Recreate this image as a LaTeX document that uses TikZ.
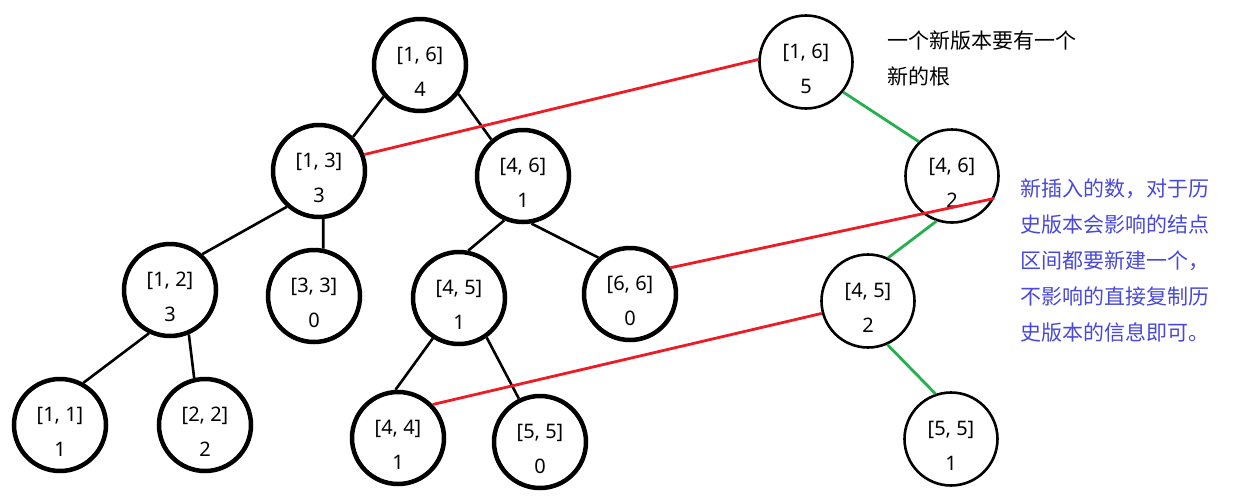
\documentclass[tikz,border=0pt]{standalone}
\usepackage{fontspec}
\setmainfont{Noto Sans CJK SC}
\newfontfamily\seglabelfont{Noto Sans}
\definecolor{PaintRed}{RGB}{237,28,36}
\definecolor{PaintGreen}{RGB}{34,177,76}
\definecolor{NoteBlue}{RGB}{72,72,220}
\tikzset{
  oldseg/.style={circle,draw=black,line width=4.5pt,minimum size=92pt,inner sep=0pt},
  newseg/.style={circle,draw=black,line width=2.6pt,minimum size=93pt,inner sep=0pt},
  segtext/.style={font=\seglabelfont\fontsize{20}{35}\selectfont,align=center,inner sep=0pt,yshift=-7pt},
  treeedge/.style={draw=black,line width=2.6pt},
  copyedge/.style={draw=PaintRed,line width=2.8pt},
  newedge/.style={draw=PaintGreen,line width=2.8pt},
  note/.style={font=\fontsize{21}{36}\selectfont,align=left,inner sep=0pt,anchor=north west}
}

\begin{document}
\begin{tikzpicture}[x=1pt,y=-1pt]
\useasboundingbox (0,0) rectangle (1243,499);
% old version
\node[oldseg,label={[segtext]center:{[1, 6]\\4}}](o16) at (420,65){};
\node[oldseg,label={[segtext]center:{[1, 3]\\3}}](o13) at (319,171){};
\node[oldseg,label={[segtext]center:{[4, 6]\\1}}](o46) at (523,176){};
\node[oldseg,label={[segtext]center:{[1, 2]\\3}}](o12) at (170,290){};
\node[oldseg,label={[segtext]center:{[3, 3]\\0}}](o33) at (314,296){};
\node[oldseg,label={[segtext]center:{[4, 5]\\1}}](o45) at (459,298){};
\node[oldseg,label={[segtext]center:{[6, 6]\\0}}](o66) at (630,294){};
\node[oldseg,label={[segtext]center:{[1, 1]\\1}}](o11) at (60,425){};
\node[oldseg,label={[segtext]center:{[2, 2]\\2}}](o22) at (205,425){};
\node[oldseg,label={[segtext]center:{[4, 4]\\1}}](o44) at (398,438){};
\node[oldseg,label={[segtext]center:{[5, 5]\\0}}](o55) at (540,442){};
% new version
\node[newseg,label={[segtext]center:{[1, 6]\\5}}](n16) at (806,62){};
\node[newseg,label={[segtext]center:{[4, 6]\\2}}](n46) at (952,176){};
\node[newseg,label={[segtext]center:{[4, 5]\\2}}](n45) at (868,301){};
\node[newseg,label={[segtext]center:{[5, 5]\\1}}](n55) at (951,439){};
\draw[treeedge](o16.221)--(o13.45);
\draw[treeedge](o16.-37)--(o46.131);
\draw[treeedge](o13.228)--(o12.48);
\draw[treeedge](o13.-85)--(o33.79);
\draw[treeedge](o12.244)--(o11.61);
\draw[treeedge](o12.-67)--(o22.103);
\draw[treeedge](o46.247)--(o45.79);
\draw[treeedge](o46.-80)--(o66.131);
\draw[treeedge](o45.237)--(o44.93);
\draw[treeedge](o45.-55)--(o55.116);
\draw[newedge](n16.-39)--(n46.134);
\draw[newedge](n46.251)--(n45.65);
\draw[newedge](n45.-66)--(n55.109);
\draw[copyedge](o13.20)--(n16.177);
\draw[copyedge](o66.33)--(n46.-28);
\draw[copyedge](o44.44)--(n45.195);
% notes
\node[note](rootnote) at (887,31){一个新版本要有一个\\新的根};
\node[note,text=NoteBlue](copynote) at (1020,179){新插入的数，对于历\\史版本会影响的结点\\区间都要新建一个，\\不影响的直接复制历\\史版本的信息即可。};
\end{tikzpicture}
\end{document}
